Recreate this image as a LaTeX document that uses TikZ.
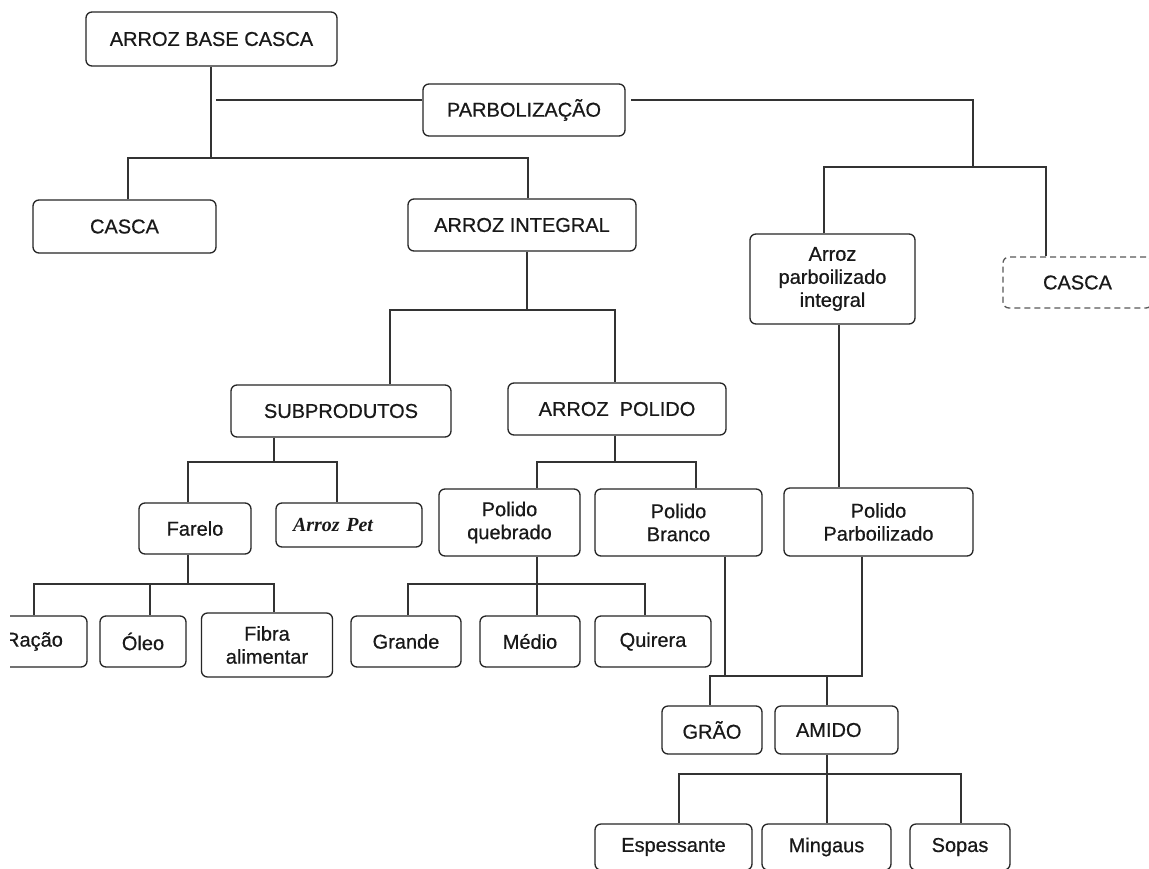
\documentclass[tikz,border=0pt]{standalone}
\usepackage{fontspec}
\setmainfont{Liberation Sans}[FakeBold=0.6]
\newfontfamily\petfont{Liberation Serif}
\begin{document}
\begin{tikzpicture}[x=1pt,y=-1pt,
  box/.style={draw=black!85, line width=1.3pt, rounded corners=6pt, fill=white,
    align=center, inner sep=0pt, text=black!90, font=\fontsize{20}{23}\selectfont},
  dbox/.style={box, dash pattern=on 6pt off 4pt, draw=black!65},
  wire/.style={draw=black!80, line width=1.3pt}]
\useasboundingbox[fill=white] (0,0) rectangle (1149,868);

% ---------- nodes ----------
\node[box, minimum width=251pt, minimum height=54pt] (abc) at (211.5,39) {ARROZ BASE CASCA};
\node[box, minimum width=202pt, minimum height=52pt] (parb) at (524,110) {PARBOLIZAÇÃO};
\node[box, minimum width=183pt, minimum height=53pt] (casca1) at (124.5,226.5) {CASCA};
\node[box, minimum width=228pt, minimum height=52pt] (integ) at (522,225) {ARROZ INTEGRAL};
\node[box, minimum width=165pt, minimum height=90pt] (api) at (832.5,279) {Arroz\\parboilizado\\integral};
\node[dbox, minimum width=149pt, minimum height=51pt] (casca2) at (1077.5,282.5) {CASCA};
\node[box, minimum width=220pt, minimum height=52pt] (sub) at (341,411) {SUBPRODUTOS};
\node[box, minimum width=218pt, minimum height=52pt] (apol) at (617,409) {ARROZ\ \ POLIDO};
\node[box, minimum width=112pt, minimum height=51pt] (farelo) at (195,528.5) {Farelo};
\node[box, minimum height=44pt, inner xsep=17pt, text width=112pt, align=left,
      font=\petfont\bfseries\itshape\fontsize{20}{23}\selectfont] (pet) at (349,525) {Arroz Pet};
\node[box, minimum width=141pt, minimum height=67pt] (pq) at (509.5,522.5) {Polido\\quebrado};
\node[box, minimum width=167pt, minimum height=67pt] (pb) at (678.5,522.5) {Polido\\Branco};
\node[box, minimum width=189pt, minimum height=68pt] (pp) at (878.5,522) {Polido\\Parboilizado};
\begin{scope}
  \clip (10,0) rectangle (1149,868);
  \node[box, minimum width=106pt, minimum height=51pt] (racao) at (34,641.5) {Ração};
\end{scope}
\node[box, minimum width=86pt, minimum height=51pt] (oleo) at (143,641.5) {Óleo};
\node[box, minimum width=131pt, minimum height=64pt] (fibra) at (267,645) {Fibra\\alimentar};
\node[box, minimum width=110pt, minimum height=51pt] (grande) at (406,641.5) {Grande};
\node[box, minimum width=100pt, minimum height=51pt] (medio) at (530,641.5) {Médio};
\node[box, minimum width=116pt, minimum height=51pt] (quirera) at (653,641.5) {Quirera};
\node[box, minimum width=100pt, minimum height=48pt] (grao) at (712,730) {GRÃO};
\node[box, minimum height=48pt, inner xsep=21pt, text width=81pt, align=left] (amido) at (836.5,730) {AMIDO};
\node[box, minimum width=157pt, minimum height=46pt] (esp) at (673.5,847) {Espessante};
\node[box, minimum width=129pt, minimum height=46pt] (mingaus) at (826.5,847) {Mingaus};
\node[box, minimum width=100pt, minimum height=46pt] (sopas) at (960,847) {Sopas};

% ---------- junction coordinates ----------
\coordinate (j0) at (211,158);
\coordinate (bL) at (128,158);
\coordinate (bR) at (528,158);
\coordinate (p0) at (216,100);
\coordinate (p1) at (631,100);
\coordinate (p2) at (973,100);
\coordinate (p3) at (973,167);
\coordinate (q1) at (824,167);
\coordinate (q2) at (1046,167);
\coordinate (i0) at (527,310);
\coordinate (iL) at (390,310);
\coordinate (iR) at (615,310);
\coordinate (s0) at (274,462);
\coordinate (sL) at (188,462);
\coordinate (sR) at (337,462);
\coordinate (a0) at (615,462);
\coordinate (aL) at (537,462);
\coordinate (aR) at (696,462);
\coordinate (v0) at (839,400);
\coordinate (f0) at (188,584);
\coordinate (fL) at (34,584);
\coordinate (fM) at (150,584);
\coordinate (fR) at (274,584);
\coordinate (g0) at (537,584);
\coordinate (gL) at (408,584);
\coordinate (gR) at (645,584);
\coordinate (w1) at (725,676);
\coordinate (w2) at (862,676);
\coordinate (wL) at (710,676);
\coordinate (wM) at (827,676);
\coordinate (m0) at (827,774);
\coordinate (mL) at (679,774);
\coordinate (mR) at (961,774);

% ---------- connectors ----------
\draw[wire] (abc.south -| j0) -- (j0);
\draw[wire] (casca1.north -| bL) -- (bL) -- (bR) -- (integ.north -| bR);
\draw[wire] (p0) -- (parb.west |- p0);
\draw[wire] (p1) -- (p2) -- (p3);
\draw[wire] (api.north -| q1) -- (q1) -- (q2) -- (casca2.north -| q2);
\draw[wire] (integ.south -| i0) -- (i0);
\draw[wire] (sub.north -| iL) -- (iL) -- (iR) -- (apol.north -| iR);
\draw[wire] (sub.south -| s0) -- (s0);
\draw[wire] (farelo.north -| sL) -- (sL) -- (sR) -- (pet.north -| sR);
\draw[wire] (apol.south -| a0) -- (a0);
\draw[wire] (pq.north -| aL) -- (aL) -- (aR) -- (pb.north -| aR);
\draw[wire] (api.south -| v0) -- (pp.north -| v0);
\draw[wire] (farelo.south -| f0) -- (f0);
\draw[wire] (racao.north -| fL) -- (fL) -- (fR) -- (fibra.north -| fR);
\draw[wire] (fM) -- (oleo.north -| fM);
\draw[wire] (pq.south -| g0) -- (medio.north -| g0);
\draw[wire] (grande.north -| gL) -- (gL) -- (gR) -- (quirera.north -| gR);
\draw[wire] (pb.south -| w1) -- (w1);
\draw[wire] (pp.south -| w2) -- (w2) -- (wL) -- (grao.north -| wL);
\draw[wire] (wM) -- (amido.north -| wM);
\draw[wire] (amido.south -| m0) -- (mingaus.north -| m0);
\draw[wire] (esp.north -| mL) -- (mL) -- (mR) -- (sopas.north -| mR);
\end{tikzpicture}
\end{document}
